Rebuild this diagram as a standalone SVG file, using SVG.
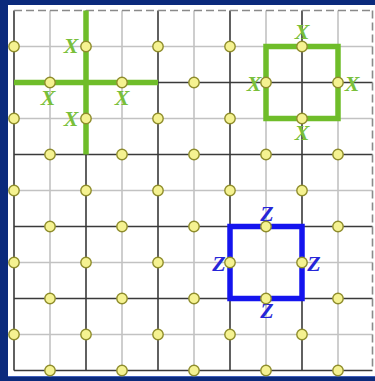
<svg xmlns="http://www.w3.org/2000/svg" width="375" height="381" viewBox="0 0 375 381">
<style>
.prim{stroke:#3a3a3a;stroke-width:1.6;fill:none}
.dual{stroke:#c2c2c2;stroke-width:1.6;fill:none}
.dash{stroke:#8a8a8a;stroke-width:1.6;stroke-dasharray:8,4;fill:none}
.gx{stroke:#6fbd2a;stroke-width:5.5;fill:none}
.bz{stroke:#1414ee;stroke-width:5.5;fill:none}
.q{fill:#f5f291;stroke:#8f8d2c;stroke-width:1.4}
.lx{font-family:"Liberation Serif","DejaVu Serif",serif;font-style:italic;font-weight:bold;font-size:22px;fill:#79bf3a;text-anchor:middle}
.lz{font-family:"Liberation Serif","DejaVu Serif",serif;font-style:italic;font-weight:bold;font-size:22px;fill:#2626d8;text-anchor:middle}
</style>
<defs><circle id="qb" r="5.2" class="q"/></defs>
<rect x="0" y="0" width="375" height="381" fill="#0b2a7c"/>
<rect x="8" y="5" width="367" height="371" fill="#ffffff"/>
<line x1="8" y1="376.5" x2="375" y2="376.5" stroke="#3f5fb8" stroke-width="1"/>
<g id="connectors">
<g id="dual-lines">
<path class="dual" d="M50 10.5V370.5M122 10.5V370.5M194 10.5V370.5M266 10.5V370.5M338 10.5V370.5"/>
<path class="dual" d="M14 46.5H372.5M14 118.5H372.5M14 190.5H372.5M14 262.5H372.5M14 334.5H372.5"/>
</g>
<g id="primal-lines">
<path class="prim" d="M14 10.5V370.5M86 10.5V370.5M158 10.5V370.5M230 10.5V370.5M302 10.5V370.5"/>
<path class="prim" d="M14 82.5H372.5M14 154.5H372.5M14 226.5H372.5M14 298.5H372.5M14 370.5H372.5"/>
<path class="dash" d="M14 10.5H372.5M372.5 10.5V370.5"/>
</g>
<g id="star-x"><path class="gx" d="M86 10.5V154.5M14 82.5H158"/></g>
<g id="plaquette-x"><rect class="gx" x="266" y="46.5" width="72" height="72"/></g>
<g id="plaquette-z"><rect class="bz" x="230" y="226.5" width="72" height="72"/></g>
</g>
<g id="labels">
<text class="lx" x="71" y="53">X</text>
<text class="lx" x="71" y="126">X</text>
<text class="lx" x="48" y="105">X</text>
<text class="lx" x="122" y="105">X</text>
<text class="lx" x="302" y="39">X</text>
<text class="lx" x="254" y="91">X</text>
<text class="lx" x="352" y="91">X</text>
<text class="lx" x="302" y="140">X</text>
<text class="lz" x="267" y="221">Z</text>
<text class="lz" x="219" y="271">Z</text>
<text class="lz" x="314" y="271">Z</text>
<text class="lz" x="267" y="318">Z</text>
</g>
<g id="qubits">
<g id="q-v-0-0"><use href="#qb" x="14" y="46.5"/></g>
<g id="q-v-1-0"><use href="#qb" x="86" y="46.5"/></g>
<g id="q-v-2-0"><use href="#qb" x="158" y="46.5"/></g>
<g id="q-v-3-0"><use href="#qb" x="230" y="46.5"/></g>
<g id="q-v-4-0"><use href="#qb" x="302" y="46.5"/></g>
<g id="q-v-0-1"><use href="#qb" x="14" y="118.5"/></g>
<g id="q-v-1-1"><use href="#qb" x="86" y="118.5"/></g>
<g id="q-v-2-1"><use href="#qb" x="158" y="118.5"/></g>
<g id="q-v-3-1"><use href="#qb" x="230" y="118.5"/></g>
<g id="q-v-4-1"><use href="#qb" x="302" y="118.5"/></g>
<g id="q-v-0-2"><use href="#qb" x="14" y="190.5"/></g>
<g id="q-v-1-2"><use href="#qb" x="86" y="190.5"/></g>
<g id="q-v-2-2"><use href="#qb" x="158" y="190.5"/></g>
<g id="q-v-3-2"><use href="#qb" x="230" y="190.5"/></g>
<g id="q-v-4-2"><use href="#qb" x="302" y="190.5"/></g>
<g id="q-v-0-3"><use href="#qb" x="14" y="262.5"/></g>
<g id="q-v-1-3"><use href="#qb" x="86" y="262.5"/></g>
<g id="q-v-2-3"><use href="#qb" x="158" y="262.5"/></g>
<g id="q-v-3-3"><use href="#qb" x="230" y="262.5"/></g>
<g id="q-v-4-3"><use href="#qb" x="302" y="262.5"/></g>
<g id="q-v-0-4"><use href="#qb" x="14" y="334.5"/></g>
<g id="q-v-1-4"><use href="#qb" x="86" y="334.5"/></g>
<g id="q-v-2-4"><use href="#qb" x="158" y="334.5"/></g>
<g id="q-v-3-4"><use href="#qb" x="230" y="334.5"/></g>
<g id="q-v-4-4"><use href="#qb" x="302" y="334.5"/></g>
<g id="q-h-0-1"><use href="#qb" x="50" y="82.5"/></g>
<g id="q-h-1-1"><use href="#qb" x="122" y="82.5"/></g>
<g id="q-h-2-1"><use href="#qb" x="194" y="82.5"/></g>
<g id="q-h-3-1"><use href="#qb" x="266" y="82.5"/></g>
<g id="q-h-4-1"><use href="#qb" x="338" y="82.5"/></g>
<g id="q-h-0-2"><use href="#qb" x="50" y="154.5"/></g>
<g id="q-h-1-2"><use href="#qb" x="122" y="154.5"/></g>
<g id="q-h-2-2"><use href="#qb" x="194" y="154.5"/></g>
<g id="q-h-3-2"><use href="#qb" x="266" y="154.5"/></g>
<g id="q-h-4-2"><use href="#qb" x="338" y="154.5"/></g>
<g id="q-h-0-3"><use href="#qb" x="50" y="226.5"/></g>
<g id="q-h-1-3"><use href="#qb" x="122" y="226.5"/></g>
<g id="q-h-2-3"><use href="#qb" x="194" y="226.5"/></g>
<g id="q-h-3-3"><use href="#qb" x="266" y="226.5"/></g>
<g id="q-h-4-3"><use href="#qb" x="338" y="226.5"/></g>
<g id="q-h-0-4"><use href="#qb" x="50" y="298.5"/></g>
<g id="q-h-1-4"><use href="#qb" x="122" y="298.5"/></g>
<g id="q-h-2-4"><use href="#qb" x="194" y="298.5"/></g>
<g id="q-h-3-4"><use href="#qb" x="266" y="298.5"/></g>
<g id="q-h-4-4"><use href="#qb" x="338" y="298.5"/></g>
<g id="q-h-0-5"><use href="#qb" x="50" y="370.5"/></g>
<g id="q-h-1-5"><use href="#qb" x="122" y="370.5"/></g>
<g id="q-h-2-5"><use href="#qb" x="194" y="370.5"/></g>
<g id="q-h-3-5"><use href="#qb" x="266" y="370.5"/></g>
<g id="q-h-4-5"><use href="#qb" x="338" y="370.5"/></g>
</g>
</svg>
